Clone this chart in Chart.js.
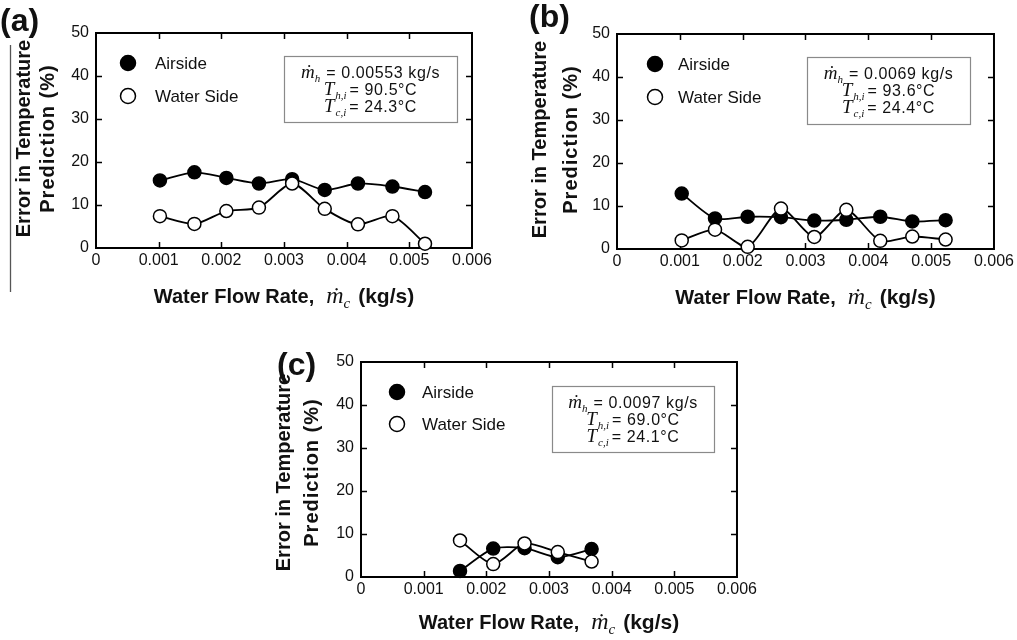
<!DOCTYPE html>
<html><head><meta charset="utf-8">
<script src="https://cdn.jsdelivr.net/npm/chart.js@4.4.0/dist/chart.umd.min.js"></script>
<style>
html,body{margin:0;padding:0;background:#fff;width:1017px;height:640px;overflow:hidden;}
canvas{position:absolute;display:block;}
</style></head><body>
<canvas id="ca" width="510" height="320" style="left:0;top:0"></canvas>
<canvas id="cb" width="507" height="320" style="left:510px;top:0"></canvas>
<canvas id="cc" width="500" height="320" style="left:260px;top:320px"></canvas>
<script>
// ---------- data ----------
const xTickLabels = ['0','0.001','0.002','0.003','0.004','0.005','0.006'];
const yTickLabels = ['0','10','20','30','40','50'];
const seriesNames = ['Airside','Water Side'];
const panelLabels = ['(a)','(b)','(c)'];
const yTitleLines = ['Error in Temperature','Prediction (%)'];
const xTitleParts = ['Water Flow Rate,','ṁ','c','(kg/s)'];

const flowA  = [0.00102,0.00157,0.00208,0.00260,0.00313,0.00365,0.00418,0.00473,0.00525];
const airA   = [15.7,17.6,16.3,15.0,16.0,13.5,15.0,14.3,13.0];
const waterA = [7.4,5.6,8.6,9.4,15.0,9.1,5.5,7.4,1.0];

const flowB  = [0.00103,0.00156,0.00208,0.00261,0.00314,0.00365,0.00419,0.00470,0.00523];
const airB   = [12.9,7.1,7.5,7.4,6.6,6.8,7.5,6.4,6.7];
const waterB = [2.0,4.5,0.5,9.4,2.8,9.1,1.9,2.9,2.2];

const flowC  = [0.00158,0.00211,0.00261,0.00314,0.00368];
const airC   = [1.4,6.6,6.7,4.6,6.5];
const waterC = [8.5,3.0,7.8,5.8,3.6];

const condMh  = ['0.00553','0.0069','0.0097'];
const condThi = ['90.5','93.6','69.0'];
const condTci = ['24.3','24.4','24.1'];

// ---------- styling ----------
const SANS = '"Liberation Sans", Arial, sans-serif';
const SERIF = '"Liberation Serif", "DejaVu Serif", serif';
const BOLD = '"Liberation Sans", Arial, sans-serif';

function drawSegs(ctx, segs, cx, baseY){
  let w = 0;
  segs.forEach(s => { ctx.font = s.f; ctx.letterSpacing = (s.ls||0) + 'px'; s.w = ctx.measureText(s.t).width + (s.gap||0); w += s.w; });
  let x = cx - w/2;
  ctx.textAlign = 'left'; ctx.textBaseline = 'alphabetic';
  segs.forEach(s => { ctx.font = s.f; ctx.letterSpacing = (s.ls||0) + 'px'; ctx.fillText(s.t, x, baseY + (s.dy||0)); x += s.w; });
  ctx.letterSpacing = '0px';
}

const decor = {
  id: 'decor',
  beforeDatasetsDraw(chart, args, o){
    const ctx = chart.ctx, a = chart.chartArea;
    const xs = chart.scales.x, ys = chart.scales.y;
    ctx.save();
    ctx.strokeStyle = '#000';
    ctx.lineWidth = 2;
    ctx.strokeRect(a.left, a.top, a.right - a.left, a.bottom - a.top);
    ctx.lineWidth = 1.5;
    const L = 6;
    ctx.beginPath();
    xs.ticks.forEach(t => {
      if (t.value <= xs.min + 1e-9 || t.value >= xs.max - 1e-9) return;
      const px = Math.round(xs.getPixelForValue(t.value)) + 0.5;
      ctx.moveTo(px, a.bottom); ctx.lineTo(px, a.bottom - L);
      ctx.moveTo(px, a.top); ctx.lineTo(px, a.top + L);
    });
    ys.ticks.forEach(t => {
      if (t.value <= ys.min || t.value >= ys.max) return;
      const py = Math.round(ys.getPixelForValue(t.value)) + 0.5;
      ctx.moveTo(a.left, py); ctx.lineTo(a.left + L, py);
      ctx.moveTo(a.right, py); ctx.lineTo(a.right - L, py);
    });
    ctx.stroke();
    const b = o.box;
    ctx.fillStyle = '#fff';
    ctx.fillRect(a.left + b.dx, a.top + b.dy, b.w, b.h);
    ctx.strokeStyle = '#8a8a8a'; ctx.lineWidth = 1.2;
    ctx.strokeRect(a.left + b.dx + 0.5, a.top + b.dy + 0.5, b.w, b.h);
    ctx.restore();
  },
  afterDraw(chart, args, o){
    const ctx = chart.ctx, a = chart.chartArea;
    ctx.save();
    ctx.fillStyle = '#111';
    // legend
    chart.data.datasets.slice().sort((p,q)=>p.legendIndex-q.legendIndex).forEach((ds, i) => {
      const cy = a.top + o.legendDY[i];
      ctx.beginPath();
      ctx.arc(a.left + o.legendMarkerDX, cy, 7.5, 0, Math.PI*2);
      ctx.fillStyle = ds.pointBackgroundColor; ctx.fill();
      ctx.strokeStyle = '#000'; ctx.lineWidth = 1.5; ctx.stroke();
      ctx.fillStyle = '#111';
      ctx.font = '17px ' + SANS;
      ctx.textAlign = 'left'; ctx.textBaseline = 'alphabetic';
      ctx.fillText(ds.label, a.left + o.legendTextDX, cy + 6);
    });
    // annotation text
    const b = o.box, bcx = a.left + b.dx + b.w/2, bt = a.top + b.dy;
    const nf = '16px ' + SANS, itf = 'italic 19px ' + SERIF, subf = 'italic 11px ' + SERIF;
    drawSegs(ctx, [{t:'ṁ', f:itf}, {t:'h', f:subf, dy:4, gap:1}, {t:' = ' + o.cond[0] + ' kg/s', f:nf, ls:0.6}], bcx, bt + 16 + 6);
    drawSegs(ctx, [{t:'T', f:itf, gap:1}, {t:'h,i', f:subf, dy:4, gap:3}, {t:'= ' + o.cond[1] + '°C', f:nf, ls:0.6}], bcx, bt + 33 + 6);
    drawSegs(ctx, [{t:'T', f:itf, gap:1}, {t:'c,i', f:subf, dy:4, gap:3}, {t:'= ' + o.cond[2] + '°C', f:nf, ls:0.6}], bcx, bt + 50 + 6);
    // x title
    const bf = 'bold 20px ' + BOLD;
    drawSegs(ctx, [
      {t:xTitleParts[0], f:bf, gap:12},
      {t:xTitleParts[1], f:'italic 24px ' + SERIF},
      {t:xTitleParts[2], f:'italic 15px ' + SERIF, dy:5, gap:8},
      {t:xTitleParts[3], f:'bold 21px ' + BOLD}
    ], (a.left + a.right)/2, a.bottom + o.xTitleDY + 7);
    // y title
    const cyT = (a.top + a.bottom)/2 + o.yTitleShift;
    ctx.font = 'bold 20px ' + BOLD;
    ctx.textAlign = 'center'; ctx.textBaseline = 'alphabetic';
    yTitleLines.forEach((ln, i) => {
      ctx.save();
      ctx.translate(a.left - o.yTitleDX[i], cyT);
      ctx.rotate(-Math.PI/2);
      ctx.letterSpacing = (i === 1 ? 1 : 0) + 'px';
      ctx.fillText(ln, 0, 7.2);
      ctx.restore();
    });
    // panel label
    ctx.font = 'bold 32px ' + BOLD;
    ctx.textAlign = 'left';
    ctx.fillText(o.label, o.labelX, o.labelY);
    if (o.edge){
      ctx.strokeStyle = '#555'; ctx.lineWidth = 1.3;
      ctx.beginPath(); ctx.moveTo(o.edge.x, o.edge.y0); ctx.lineTo(o.edge.x, o.edge.y1); ctx.stroke();
    }
    ctx.restore();
  }
};

function makeChart(id, flow, air, water, pad, yW, xH, deco){
  const toPts = (xs, ys) => xs.map((x, i) => ({x, y: ys[i]}));
  const common = {showLine:true, borderColor:'#000', borderWidth:1.8, tension:0.25,
    pointRadius:6.5, pointHoverRadius:6.5, pointBorderColor:'#000', pointBorderWidth:1.5, clip:false, fill:false};
  return new Chart(document.getElementById(id), {
    type: 'scatter',
    data: { datasets: [
      Object.assign({label: seriesNames[0], data: toPts(flow, air), pointBackgroundColor:'#000', order:1, legendIndex:0}, common),
      Object.assign({label: seriesNames[1], data: toPts(flow, water), pointBackgroundColor:'#fff', order:0, legendIndex:1}, common)
    ]},
    options: {
      responsive:false, animation:false, events:[],
      layout:{padding:pad},
      plugins:{legend:{display:false}, tooltip:{enabled:false}, decor:deco},
      scales:{
        x:{type:'linear', min:0, max:0.006,
          ticks:{stepSize:0.001, padding:3, color:'#111', font:{family:'Liberation Sans', size:16}, maxRotation:0, autoSkip:false,
            callback:(v, i) => xTickLabels[i] !== undefined ? xTickLabels[i] : ''},
          grid:{display:false, drawTicks:false}, border:{display:false},
          afterFit:(s) => { s.height = xH; }},
        y:{type:'linear', min:0, max:50,
          ticks:{stepSize:10, padding:7, color:'#111', font:{family:'Liberation Sans', size:16},
            callback:(v, i) => yTickLabels[i] !== undefined ? yTickLabels[i] : ''},
          grid:{display:false, drawTicks:false}, border:{display:false},
          afterFit:(s) => { s.width = yW; }}
      }
    },
    plugins:[decor]
  });
}

makeChart('ca', flowA, airA, waterA, {left:0, right:38, top:33, bottom:0}, 96, 72, {
  label:panelLabels[0], labelX:0, labelY:31,
  legendMarkerDX:32, legendTextDX:59, legendDY:[30,63],
  box:{dx:188, dy:23, w:173, h:66}, cond:[condMh[0], condThi[0], condTci[0]],
  yTitleDX:[73,49], yTitleShift:-2, xTitleDY:48, edge:{x:10.5, y0:45, y1:292}
});
makeChart('cb', flowB, airB, waterB, {left:0, right:23, top:34, bottom:0}, 107, 71, {
  label:panelLabels[1], labelX:19, labelY:27,
  legendMarkerDX:38, legendTextDX:61, legendDY:[30,63],
  box:{dx:190, dy:23, w:163, h:67}, cond:[condMh[1], condThi[1], condTci[1]],
  yTitleDX:[78,47], yTitleShift:-2, xTitleDY:48
});
makeChart('cc', flowC, airC, waterC, {left:0, right:22, top:42, bottom:0}, 101, 63, {
  label:panelLabels[2], labelX:17, labelY:55,
  legendMarkerDX:36, legendTextDX:61, legendDY:[30,62],
  box:{dx:191, dy:24, w:162, h:66}, cond:[condMh[2], condThi[2], condTci[2]],
  yTitleDX:[78,50], yTitleShift:3, xTitleDY:45
});
</script>
</body></html>
